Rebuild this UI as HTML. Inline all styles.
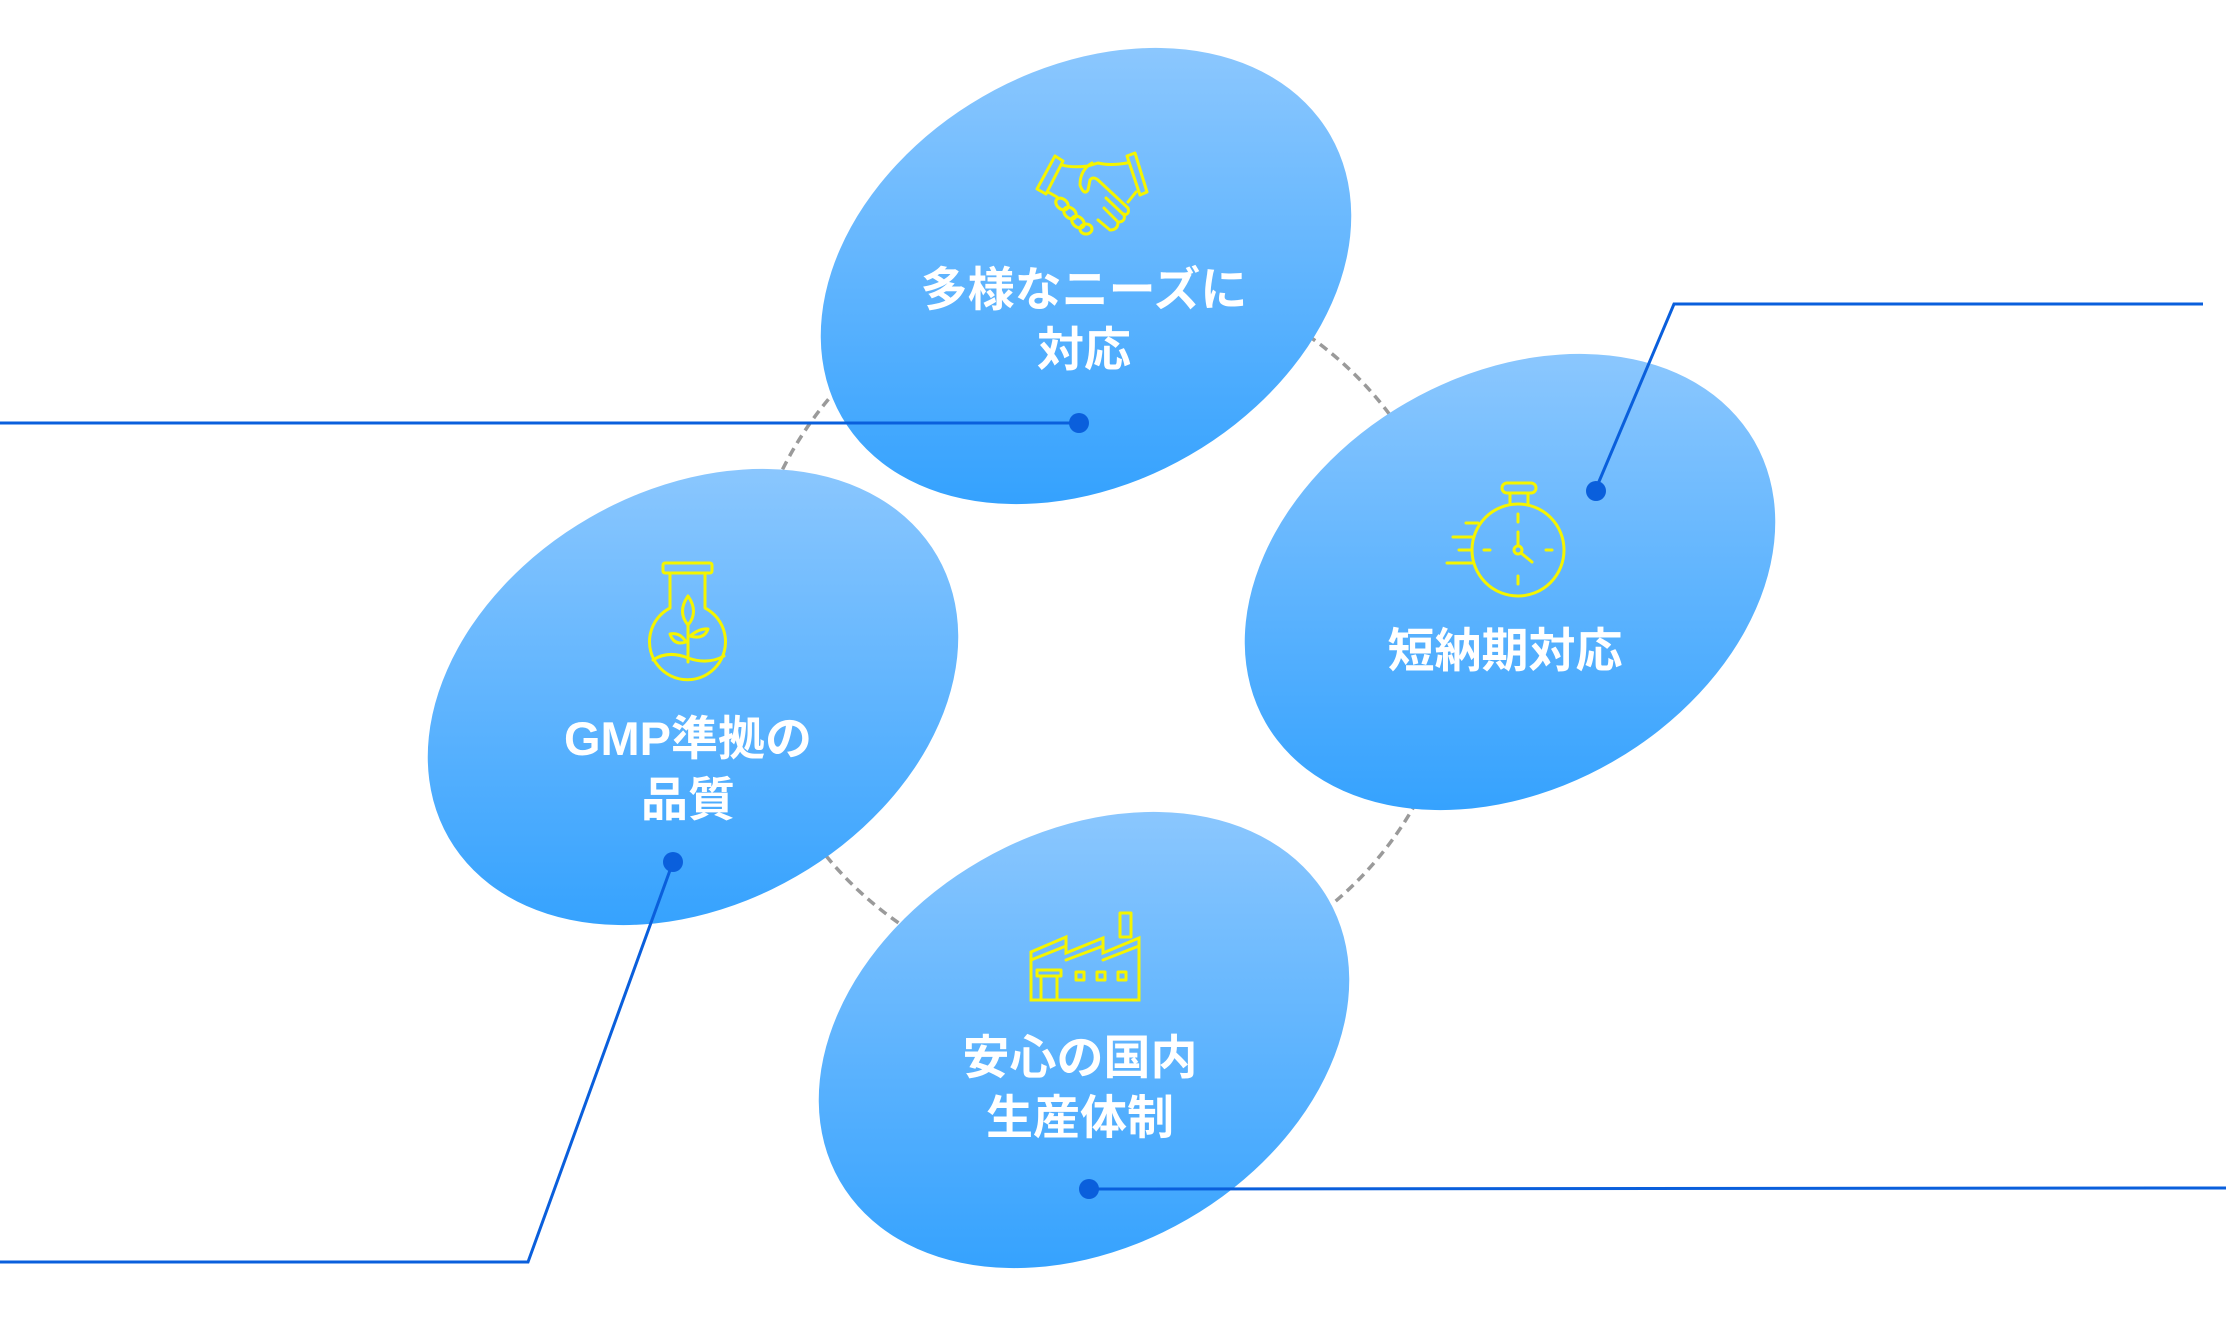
<!DOCTYPE html>
<html><head><meta charset="utf-8"><style>
html,body{margin:0;padding:0;background:#fff}
svg{display:block}
text{font-family:"Liberation Sans","Noto Sans CJK JP",sans-serif;font-weight:700;fill:#fff;font-size:47px;text-anchor:middle}
</style></head><body>
<svg width="2226" height="1320" viewBox="0 0 2226 1320" xmlns="http://www.w3.org/2000/svg">
<defs>
<linearGradient id="g1" gradientUnits="userSpaceOnUse" x1="0" y1="50" x2="0" y2="501" gradientTransform="rotate(30 1086 276)"><stop offset="0" stop-color="#8bc7fe"/><stop offset="1" stop-color="#35a2fe"/></linearGradient>
<linearGradient id="g2" gradientUnits="userSpaceOnUse" x1="0" y1="352" x2="0" y2="812" gradientTransform="rotate(30 1510 582)"><stop offset="0" stop-color="#8bc7fe"/><stop offset="1" stop-color="#35a2fe"/></linearGradient>
<linearGradient id="g3" gradientUnits="userSpaceOnUse" x1="0" y1="464" x2="0" y2="930" gradientTransform="rotate(30 693 697)"><stop offset="0" stop-color="#8bc7fe"/><stop offset="1" stop-color="#35a2fe"/></linearGradient>
<linearGradient id="g4" gradientUnits="userSpaceOnUse" x1="0" y1="809" x2="0" y2="1271" gradientTransform="rotate(30 1084 1040)"><stop offset="0" stop-color="#8bc7fe"/><stop offset="1" stop-color="#35a2fe"/></linearGradient>
</defs>
<circle cx="1103" cy="629" r="358" fill="none" stroke="#9a9a9a" stroke-width="3.5" stroke-dasharray="9 6"/>
<ellipse cx="1086" cy="276" rx="282" ry="207" transform="rotate(-30 1086 276)" fill="url(#g1)"/>
<ellipse cx="1510" cy="582" rx="282" ry="207" transform="rotate(-30 1510 582)" fill="url(#g2)"/>
<ellipse cx="693" cy="697" rx="282" ry="207" transform="rotate(-30 693 697)" fill="url(#g3)"/>
<ellipse cx="1084" cy="1040" rx="282" ry="207" transform="rotate(-30 1084 1040)" fill="url(#g4)"/>

<g fill="none" stroke="#0a5fdc" stroke-width="3">
<polyline points="0,423 1079,423"/>
<polyline points="1595,491 1674,304 2203,304"/>
<polyline points="673,862 528,1262 0,1262"/>
<polyline points="1089,1189 2226,1188"/>
</g>
<g fill="#0a5fdc">
<circle cx="1079" cy="423" r="10"/><circle cx="1596" cy="491" r="10"/>
<circle cx="673" cy="862" r="10"/><circle cx="1089" cy="1189" r="10"/>
</g>

<g fill="none" stroke="#f5f500" stroke-width="3" stroke-linecap="round" stroke-linejoin="round">
<polygon points="1055,156 1063,161 1046,194 1037,189"/>
<polygon points="1127,156 1135,153 1147,192 1140,195"/>
<path d="M1062,165 Q1072,168 1088,166 L1098,163 Q1110,166 1127,163"/>
<path d="M1092,163 Q1080,170 1080,185 Q1084,196 1088,190 L1090,180 Q1093,176 1098,180 L1128,208 Q1130,214 1124,215 L1106,198"/>
<path d="M1124,214 Q1126,222 1118,222 L1104,208"/>
<path d="M1118,222 Q1118,230 1110,230 L1098,220"/>
<path d="M1136,192 L1128,202"/>
<path d="M1048,192 L1057,197"/>
<ellipse cx="1062" cy="204" rx="7" ry="5" transform="rotate(40 1062 204)"/>
<ellipse cx="1070" cy="213" rx="7" ry="5" transform="rotate(40 1070 213)"/>
<ellipse cx="1078" cy="222" rx="7" ry="5" transform="rotate(40 1078 222)"/>
<ellipse cx="1086" cy="229" rx="6" ry="5"/>
<circle cx="1518" cy="550" r="46"/>
<rect x="1502" y="483" width="34" height="10" rx="5"/>
<path d="M1510,493 V504 M1528,493 V504"/>
<path d="M1518,514 V522 M1518,532 V546 M1518,576 V584 M1484,550 H1490 M1546,550 H1552 M1521,553 L1532,562"/>
<circle cx="1518" cy="550" r="4"/>
<path d="M1466,523 H1478 M1453,537 H1474 M1459,550 H1472 M1447,563 H1473"/>
<rect x="663" y="563" width="49" height="10" rx="2"/>
<path d="M670,573 V608 A38,38 0 1 0 705,608 V573"/>
<path d="M653,660 Q668,650 688,658 Q708,665 724,656"/>
<path d="M688,662 V625 M688,625 Q677,612 688,596 Q699,612 688,625 M686,642 Q680,632 670,634 Q674,646 686,642 M690,636 Q700,628 708,629 Q704,640 690,636"/>
<path d="M1031,1000 H1139 V938 L1103,953 V938 L1066,953 V937 L1031,952 Z" stroke-linejoin="miter"/>
<path d="M1031,960 L1066,946 M1066,960 L1103,946 M1103,960 L1139,946"/>
<rect x="1120" y="913" width="11" height="24"/>
<rect x="1037" y="970" width="24" height="6"/>
<path d="M1041,976 V1000 M1057,976 V1000"/>
<rect x="1076" y="972" width="8" height="8"/><rect x="1097" y="972" width="8" height="8"/><rect x="1118" y="972" width="8" height="8"/>
</g>

<text x="1084" y="306">多様なニーズに</text>
<text x="1084" y="366">対応</text>
<text x="1505" y="667">短納期対応</text>
<text x="688" y="755">GMP準拠の</text>
<text x="688" y="816">品質</text>
<text x="1080" y="1074">安心の国内</text>
<text x="1080" y="1134">生産体制</text>
</svg>
</body></html>
